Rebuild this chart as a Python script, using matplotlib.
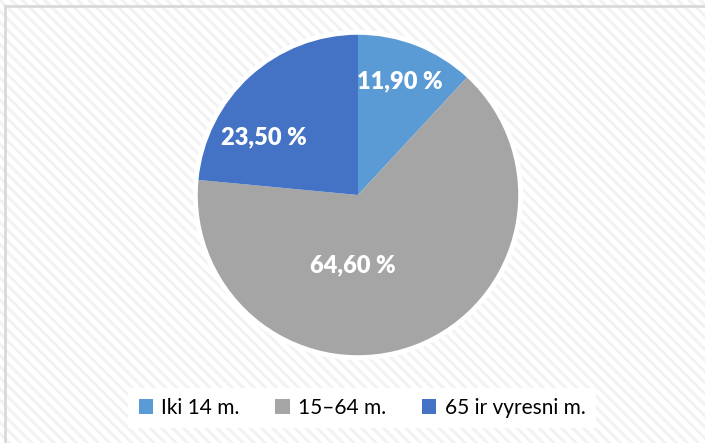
import matplotlib.pyplot as plt
import matplotlib.patches as patches
from matplotlib.lines import Line2D

# data
categories = ["Iki 14 m.", "15\u201364 m.", "65 ir vyresni m."]
values = [11.90, 64.60, 23.50]
colors = ["#5B9BD5", "#A5A5A5", "#4472C4"]
# label anchors in pie units (Excel "best fit" places them by hand)
label_pos = [(0.26, 0.71), (-0.03, -0.44), (-0.59, 0.36)]

plt.rcParams['font.family'] = ['Lato', 'DejaVu Sans']
plt.rcParams['hatch.linewidth'] = 2.2

fig = plt.figure(figsize=(7.05, 4.43), dpi=100)

# hatched background
bg = patches.Rectangle((0, 0), 1, 1, transform=fig.transFigure,
                       facecolor='white', edgecolor='#f2f2f2', hatch='\\\\\\',
                       linewidth=0, zorder=-10)
fig.patches.append(bg)

# chart frame (only top and left visible in the crop)
fig.add_artist(Line2D([5 / 705, 5 / 705], [0, 1 - 6 / 443], transform=fig.transFigure,
                      color='#d9d9d9', lw=2))
fig.add_artist(Line2D([5 / 705, 1], [1 - 6 / 443, 1 - 6 / 443], transform=fig.transFigure,
                      color='#d9d9d9', lw=2))

ax = fig.add_axes([358 / 705 - 0.25, 248 / 443 - 0.4, 0.5, 0.8])
ax.set_facecolor('none')
ax.add_patch(patches.Circle((0, 0), 1.03, facecolor='white', edgecolor='none', zorder=0))
wedges, _ = ax.pie(values, colors=colors, startangle=90, counterclock=False,
                   radius=1.0, wedgeprops=dict(edgecolor='none'))
for w in wedges:
    w.set_zorder(1)

for v, (x, y) in zip(values, label_pos):
    ax.text(x, y, f"{v:.2f} %".replace('.', ','), ha='center', va='center',
            color='white', fontsize=17, fontweight='heavy', zorder=3)

ax.set_xlim(-1.1, 1.1)
ax.set_ylim(-1.1, 1.1)
ax.set_aspect('equal')
ax.axis('off')

handles = [patches.Patch(facecolor=c, edgecolor='none') for c in colors]
leg = fig.legend(handles, categories, loc='center', bbox_to_anchor=(362 / 705, 1 - 408 / 443),
                 ncol=3, frameon=True, fontsize=15, handlelength=0.7, handleheight=0.7,
                 handletextpad=0.4, columnspacing=1.7, borderpad=0.5, fancybox=False)
leg.get_frame().set_facecolor('white')
leg.get_frame().set_edgecolor('none')
leg.get_frame().set_alpha(1)

fig.savefig('out.png', dpi=100)
